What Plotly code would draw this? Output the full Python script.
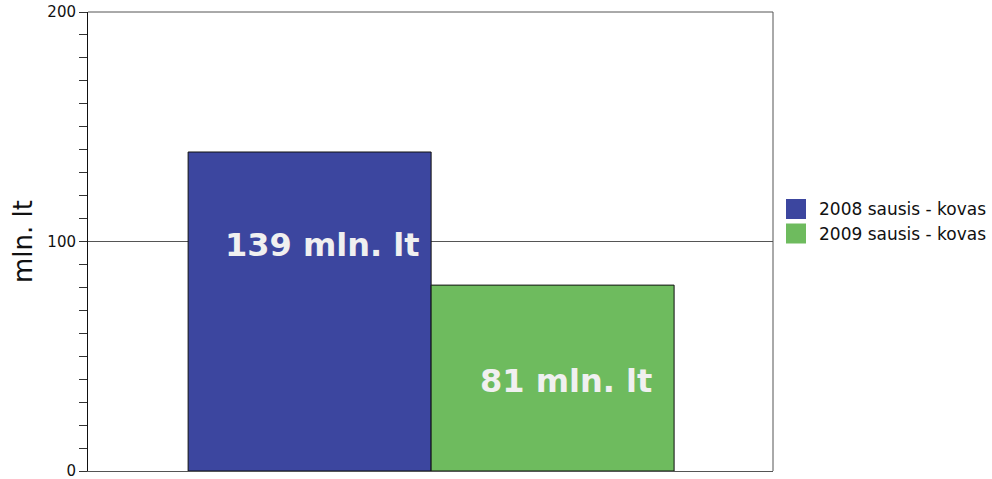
import plotly.graph_objects as go

series = ["2008 sausis - kovas", "2009 sausis - kovas"]
values = [139, 81]
labels = ["139 mln. lt", "81 mln. lt"]
label_y = [98.5, 39.3]
colors = ["#3C469F", "#6EBB5E"]
y_title = "mln. lt"
y_ticks = [0, 100, 200]

fig = go.Figure()
for i, (name, v, c) in enumerate(zip(series, values, colors)):
    fig.add_trace(go.Bar(
        x=[i], y=[v], width=[1], name=name,
        marker=dict(color=c, line=dict(color="#111111", width=1)),
        showlegend=False, hoverinfo="skip",
    ))

annotations = []
for i, (t, ly) in enumerate(zip(labels, label_y)):
    annotations.append(dict(
        x=i, y=ly, xref="x", yref="y", text=t, showarrow=False,
        xanchor="center", yanchor="middle", xshift=13,
        font=dict(family="DejaVu Sans", size=32, color="#F0F0F0", weight="bold"),
    ))

shapes = []
leg_y = [209, 233.5]
for name, c, ly in zip(series, colors, leg_y):
    shapes.append(dict(type="rect", xref="paper", yref="paper",
                       x0=(786 - 88) / 685.0, x1=(806 - 88) / 685.0,
                       y0=(471 - (ly + 10)) / 459.0, y1=(471 - (ly - 10)) / 459.0,
                       fillcolor=c, line=dict(width=0)))
    annotations.append(dict(
        x=(817 - 88) / 685.0, y=(471 - ly) / 459.0, xref="paper", yref="paper",
        text=name, showarrow=False, xanchor="left", yanchor="middle",
        font=dict(family="DejaVu Sans", size=17, color="#111111"),
    ))

# right and top border
shapes.append(dict(type="line", xref="paper", yref="paper", x0=1, x1=1, y0=0, y1=1,
                   line=dict(color="#555555", width=1)))
shapes.append(dict(type="line", xref="paper", yref="paper", x0=0, x1=1, y0=1, y1=1,
                   line=dict(color="#555555", width=1)))

fig.update_layout(
    width=992, height=479,
    margin=dict(l=88, r=219, t=12, b=8, autoexpand=False),
    plot_bgcolor="white", paper_bgcolor="white",
    barmode="overlay",
    showlegend=False,
    annotations=annotations,
    shapes=shapes,
    xaxis=dict(range=[-0.912, 1.907], showticklabels=False, showgrid=False,
               zeroline=False, showline=True, linecolor="#555555", linewidth=1,
               ticks="", fixedrange=True, automargin=False),
    yaxis=dict(range=[0, 200], tickvals=y_ticks, ticks="outside", ticklen=8,
               tickcolor="#333333", showline=True, linecolor="#111111", linewidth=1,
               showgrid=True, gridcolor="#555555", gridwidth=1, zeroline=False,
               ticklabeloverflow="allow",
               tickfont=dict(family="DejaVu Sans", size=15, color="#111111"),
               minor=dict(dtick=10, ticks="outside", ticklen=8, tickcolor="#333333",
                          showgrid=False),
               title=dict(text=y_title, standoff=7,
                          font=dict(family="DejaVu Sans", size=26, color="#111111")),
               fixedrange=True, automargin=False),
)

fig.write_html("out.html", config={"displayModeBar": False},
               post_script="document.body.style.margin='0';document.body.style.overflow='hidden';")
